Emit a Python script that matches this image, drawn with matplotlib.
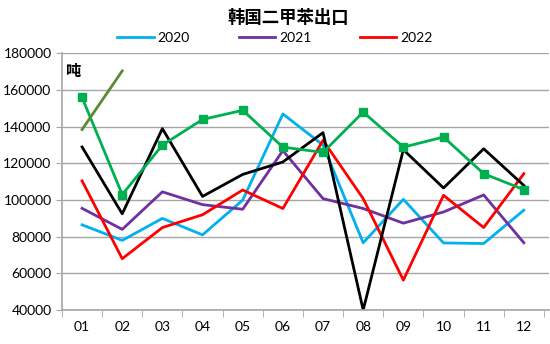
import matplotlib.pyplot as plt
import numpy as np

plt.rcParams['font.family'] = ['Lato', 'Noto Sans CJK SC', 'DejaVu Sans']

months = ["01", "02", "03", "04", "05", "06", "07", "08", "09", "10", "11", "12"]

exp_2020 = [86500, 78000, 90000, 81000, 100000, 147000, 130000, 76700, 100400, 76600, 76300, 94500]
exp_2021 = [95500, 84000, 104500, 97500, 95000, 127000, 100800, 95400, 87400, 93500, 102800, 76700]
exp_2022 = [110500, 68000, 85000, 92000, 105500, 95400, 132600, 100800, 56300, 102600, 85000, 114400]
exp_black = [129000, 92500, 139000, 102000, 114000, 120800, 136800, 40000, 127500, 106600, 128000, 108000]
exp_green = [156000, 103000, 130000, 144000, 149000, 128900, 126000, 148000, 128900, 134400, 114400, 105700]
exp_olive = [138500, 170500]

x = np.arange(1, len(months) + 1)

fig = plt.figure(figsize=(5.5, 3.44), dpi=100)
ax = fig.add_axes([0.1127, 0.0988, 0.885, 0.7457])

lw = 2.0
ax.plot(x, exp_2020, color="#00B0F0", lw=lw, label="2020")
ax.plot(x, exp_2021, color="#7030A0", lw=lw, label="2021")
ax.plot(x, exp_2022, color="#FF0000", lw=lw, label="2022")
ax.plot(x, exp_black, color="black", lw=lw)
ax.plot(x, exp_green, color="#00B050", lw=lw, marker="s", ms=6)
ax.plot(x[:len(exp_olive)], exp_olive, color="#5B8A35", lw=lw)

ax.set_xlim(0.5, 12.62)
ax.set_ylim(40000, 180000)
ax.set_yticks(np.arange(40000, 180001, 20000))
ax.set_xticks(x)
ax.set_xticklabels(months)
ax.set_xticks(np.arange(0.5, 12.6, 1), minor=True)
ax.tick_params(axis="x", which="major", length=0, pad=8, labelsize=10)
ax.tick_params(axis="x", which="minor", length=5, color="#A6A6A6")
ax.tick_params(axis="y", length=4, color="#A6A6A6", labelsize=10)

ax.grid(axis="y", color="#A6A6A6", lw=1)
ax.set_axisbelow(True)
for side in ("top", "right"):
    ax.spines[side].set_visible(False)
for side in ("left", "bottom"):
    ax.spines[side].set_color("#A6A6A6")
    ax.spines[side].set_linewidth(1.2)

ax.text(0.006, 0.93, "吨", transform=ax.transAxes, fontsize=11,
        fontweight="bold", family=["Noto Sans CJK SC", "DejaVu Sans"],
        va="center", ha="left")

fig.text(0.525, 0.947, "韩国二甲苯出口", ha="center", va="center",
         fontsize=12.5, fontweight="bold",
         family=["Noto Sans CJK SC", "DejaVu Sans"])
fig.legend(loc="center", bbox_to_anchor=(0.5, 0.89), ncol=3,
           frameon=False, fontsize=10, handlelength=2.6,
           columnspacing=3.5, handletextpad=0.3, borderaxespad=0)

fig.savefig("out.png", dpi=100)
